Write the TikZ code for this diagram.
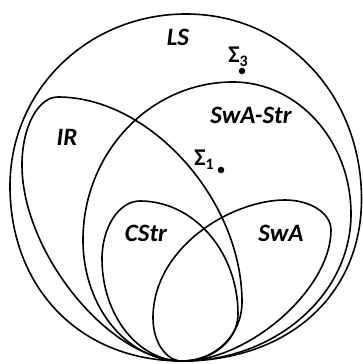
\documentclass[tikz,border=0pt]{standalone}
\usepackage{fontspec}
\setmainfont{Carlito}
\begin{document}
\begin{tikzpicture}[x=1pt,y=1pt,
  setline/.style={line width=1.6pt, line join=round},
  lbl/.style={font=\fontsize{25}{28}\selectfont\bfseries\itshape, inner sep=0pt},
  sig/.style={font=\fontsize{24}{27}\selectfont\bfseries, inner sep=0pt},
  pt/.style={circle, fill=black, inner sep=0pt, minimum size=6.5pt}]
\useasboundingbox (0,0) rectangle (363,364);
\coordinate (P) at (182,3);
% LS
\draw[setline] (P) .. controls +(-102,0) and +(0,-102) .. (10,178)
  .. controls +(0,96) and +(-98,0) .. (186,350)
  .. controls +(100,0) and +(0,104) .. (361.5,165)
  .. controls +(0,-98) and +(104,0) .. (P) -- cycle;
% SwA-Str
\draw[setline] (P) .. controls +(-55,0) and +(0,-67) .. (83,124)
  .. controls +(0,87) and +(-83,0) .. (233,282)
  .. controls +(65,0) and +(0,73) .. (351,150)
  .. controls +(0,-81) and +(93,0) .. (P) -- cycle;
% IR
\draw[setline] (P) .. controls +(-72,0) and +(0,-88) .. (22,199)
  .. controls +(0,38) and +(-20,0) .. (58,267)
  .. controls +(92,0) and +(0,102) .. (242,62)
  .. controls +(0,-33) and +(33,0) .. (P) -- cycle;
% CStr
\draw[setline] (P) .. controls +(-44,0) and +(0,-56) .. (102,105)
  .. controls +(0,32) and +(-21,0) .. (140,163)
  .. controls +(54,0) and +(0,62) .. (238,50)
  .. controls +(0,-26) and +(31,0) .. (P) -- cycle;
% SwA
\draw[setline] (P) .. controls +(-16,0) and +(0,-24) .. (153,46)
  .. controls +(0,71) and +(-53,0) .. (285,164)
  .. controls +(25,0) and +(0,17) .. (331,134)
  .. controls +(0,-59) and +(67,0) .. (P) -- cycle;
% labels
\node[lbl] (ls) at (178,327) {LS};
\node[lbl] (swastr) at (251,249) {SwA-Str};
\node[lbl] (ir) at (67,227) {IR};
\node[lbl] (cstr) at (146,131) {CStr};
\node[lbl] (swa) at (281,131) {SwA};
\node[sig] (s1) at (204,204) {Σ\raisebox{-0.35ex}{\fontsize{16}{18}\selectfont 1}};
\node[pt] (d1) at (221,194) {};
\node[sig] (s3) at (238,307) {Σ\raisebox{-0.35ex}{\fontsize{16}{18}\selectfont 3}};
\node[pt] (d3) at (242,293) {};
\end{tikzpicture}
\end{document}
